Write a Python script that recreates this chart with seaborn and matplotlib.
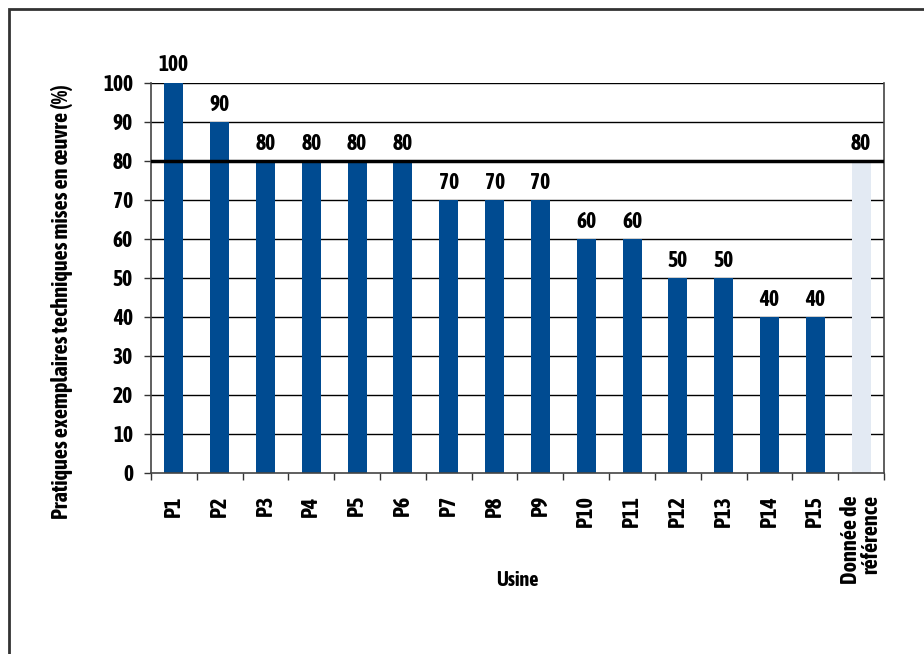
import matplotlib
matplotlib.use("Agg")
import matplotlib.pyplot as plt
from matplotlib import font_manager
from matplotlib.font_manager import FontProperties
import seaborn as sns
import pandas as pd
from matplotlib.patches import Rectangle

categories = ["P1", "P2", "P3", "P4", "P5", "P6", "P7", "P8", "P9", "P10",
              "P11", "P12", "P13", "P14", "P15", "Donnée de\nréférence"]
values = [100, 90, 80, 80, 80, 80, 70, 70, 70, 60, 60, 50, 50, 40, 40, 80]
reference_value = 80
y_ticks = [0, 10, 20, 30, 40, 50, 60, 70, 80, 90, 100]

sns.set_theme(style="white")
plt.rcParams['font.family'] = ['DejaVu Sans']
plt.rcParams['text.color'] = 'black'
plt.rcParams['axes.labelcolor'] = 'black'
plt.rcParams['xtick.color'] = 'black'
plt.rcParams['ytick.color'] = 'black'


def _w(f):
    w = f.weight
    if isinstance(w, str):
        w = font_manager.weight_dict.get(w, 400)
    return w


def _is_cond(f):
    return ("Narrow" in f.name or "Condensed" in f.name or "Condensed" in f.fname
            or "Narrow" in f.fname or f.stretch in ("condensed", "semi-condensed", "extra-condensed"))


cands = [f for f in font_manager.fontManager.ttflist
         if _is_cond(f) and _w(f) >= 600 and f.style == "normal"]
cands.sort(key=lambda f: (abs(_w(f) - 700), f.name))
if cands:
    fpath = cands[0].fname
    def FP(size):
        return FontProperties(fname=fpath, size=size)
else:
    def FP(size):
        return FontProperties(family="DejaVu Sans", weight="bold", size=size)

df = pd.DataFrame({"Usine": categories, "val": values})
blue = "#004B91"
light = "#E3EAF3"
palette = {c: (light if i == len(categories) - 1 else blue) for i, c in enumerate(categories)}

fig = plt.figure(figsize=(9.24, 6.54), dpi=100)
ax = fig.add_axes([0.1634, 0.2768, 0.9567 - 0.1634, 0.8735 - 0.2768])

for t in y_ticks[1:]:
    ax.axhline(t, color="black", lw=1.0, zorder=0)

sns.barplot(data=df, x="Usine", y="val", hue="Usine", palette=palette,
            width=0.415, legend=False, ax=ax, saturation=1, zorder=2, linewidth=0)

ax.axhline(reference_value, color="black", lw=2.5, zorder=3)

for i, v in enumerate(values):
    ax.text(i, v + 1.6, f"{v}", ha="center", va="bottom",
            fontproperties=FP(15.5), zorder=4)

ax.set_ylim(0, 100)
ax.set_xlim(-0.5, len(categories) - 0.5)
ax.set_yticks(y_ticks)
ax.set_yticklabels([str(t) for t in y_ticks], fontproperties=FP(15.5))

ax.set_xticks(range(len(categories)))
ax.set_xticklabels(categories, rotation=90, fontproperties=FP(16),
                   ha="center", va="top", multialignment="right", linespacing=0.9)
ax.set_xticks([i - 0.5 for i in range(len(categories) + 1)], minor=True)
ax.tick_params(axis="x", which="major", length=0, pad=16)
ax.tick_params(axis="x", which="minor", length=5, width=1, color="#333333", direction="out", bottom=True)
ax.tick_params(axis="y", which="major", length=5, width=1, color="#333333", direction="out", left=True, pad=8)

ax.set_xlabel("Usine", fontproperties=FP(14.5))
ax.set_ylabel("Pratiques exemplaires techniques mises en œuvre (%)", fontproperties=FP(16))
ax.xaxis.set_label_coords(0.5, -0.274)
ax.yaxis.set_label_coords(-0.1214, 0.44)
ax.xaxis.label.set_va("center")
ax.yaxis.label.set_va("center")

ax.spines["top"].set_visible(False)
for s in ["left", "right", "bottom"]:
    ax.spines[s].set_visible(True)
    ax.spines[s].set_color("#444444")
    ax.spines[s].set_linewidth(1.2)

fig.patches.append(Rectangle((9 / 924, -0.1), 1.2, 1.1 - 9 / 654,
                             transform=fig.transFigure, fill=False,
                             edgecolor="#333333", lw=2.0))

fig.savefig("out.png", dpi=100)
